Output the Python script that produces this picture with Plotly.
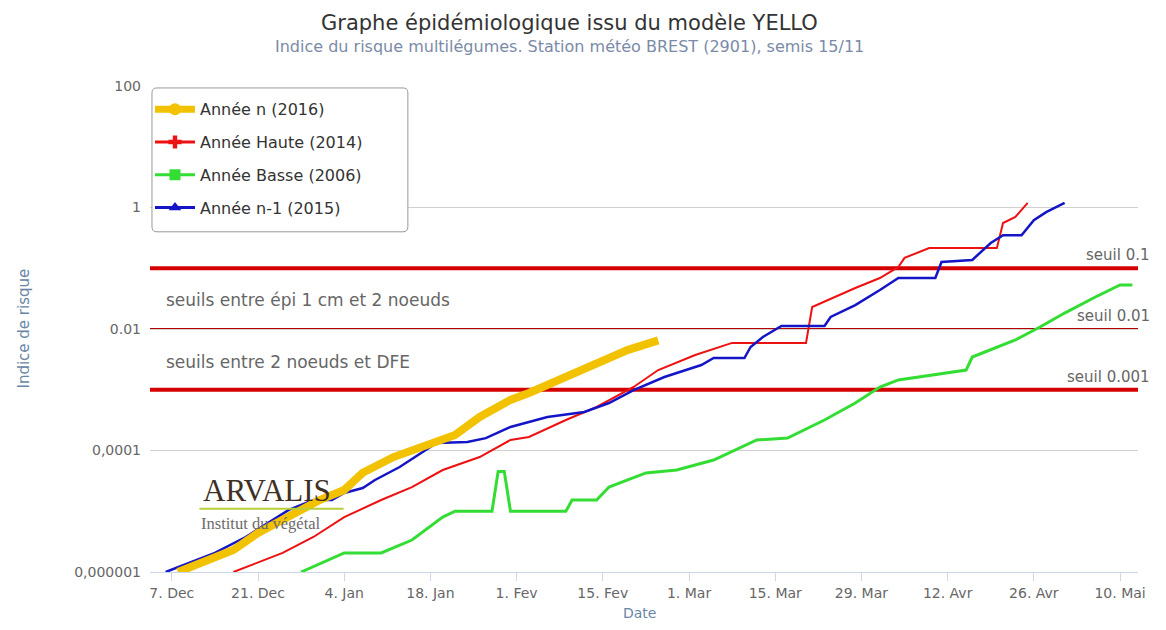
import numpy as np
import plotly.graph_objects as go

# axe des dates : annee non bissextile (15 Fev + 14 j = 1 Mar)
tickDates = ["2022-12-07", "2022-12-21", "2023-01-04", "2023-01-18", "2023-02-01", "2023-02-15",
             "2023-03-01", "2023-03-15", "2023-03-29", "2023-04-12", "2023-04-26", "2023-05-10"]
tickLabels = ["7. Dec", "21. Dec", "4. Jan", "18. Jan", "1. Fev", "15. Fev",
              "1. Mar", "15. Mar", "29. Mar", "12. Avr", "26. Avr", "10. Mai"]

yTickVals = [1e-6, 1e-4, 1e-2, 1, 100]
yTickText = ["0,000001", "0,0001", "0.01", "1", "100"]

# Annee n (2016)
anneeN_dates = ["2022-12-08", "2022-12-17", "2022-12-21", "2022-12-26", "2022-12-31", "2023-01-04",
                "2023-01-07", "2023-01-12", "2023-01-18", "2023-01-22", "2023-01-26", "2023-01-31",
                "2023-02-03", "2023-02-09", "2023-02-14", "2023-02-19", "2023-02-24"]
anneeN_vals = [1.0e-6, 2.3e-6, 4.4e-6, 8.0e-6, 1.53e-5, 2.24e-5,
               4.3e-5, 7.8e-5, 1.33e-4, 1.8e-4, 3.56e-4, 6.8e-4,
               8.85e-4, 1.62e-3, 2.75e-3, 4.5e-3, 6.5e-3]

# Annee Haute (2014)
haute_dates = ["2022-12-17", "2022-12-25", "2022-12-30", "2023-01-04", "2023-01-10", "2023-01-15",
               "2023-01-20", "2023-01-26", "2023-01-31", "2023-02-03", "2023-02-09", "2023-02-14",
               "2023-02-20", "2023-02-24", "2023-03-02", "2023-03-08", "2023-03-20", "2023-03-21",
               "2023-03-28", "2023-04-01", "2023-04-04", "2023-04-05", "2023-04-09", "2023-04-20",
               "2023-04-21", "2023-04-23", "2023-04-25"]
haute_vals = [1.0e-6, 2.06e-6, 3.77e-6, 8.0e-6, 1.53e-5, 2.5e-5,
              4.77e-5, 7.8e-5, 1.49e-4, 1.67e-4, 3.18e-4, 5.2e-4,
              1.11e-3, 2.11e-3, 3.73e-3, 5.9e-3, 5.9e-3, 2.3e-2,
              4.73e-2, 6.9e-2, 0.105, 0.148, 0.215, 0.215,
              0.556, 0.70, 1.19]

# Annee Basse (2006)
basse_dates = ["2022-12-28", "2023-01-04", "2023-01-10", "2023-01-15", "2023-01-20", "2023-01-22",
               "2023-01-28", "2023-01-29", "2023-01-30", "2023-01-31", "2023-02-09", "2023-02-10",
               "2023-02-14", "2023-02-16", "2023-02-22", "2023-02-27", "2023-03-05", "2023-03-12",
               "2023-03-17", "2023-03-23", "2023-03-28", "2023-04-01", "2023-04-04", "2023-04-15",
               "2023-04-16", "2023-04-23", "2023-04-27", "2023-05-01", "2023-05-06", "2023-05-10",
               "2023-05-12"]
basse_vals = [1.0e-6, 2.06e-6, 2.06e-6, 3.36e-6, 8.0e-6, 1.0e-5,
              1.0e-5, 4.5e-5, 4.5e-5, 1.0e-5, 1.0e-5, 1.53e-5,
              1.53e-5, 2.5e-5, 4.27e-5, 4.77e-5, 6.98e-5, 1.49e-4,
              1.6e-4, 3.18e-4, 6.05e-4, 1.11e-3, 1.45e-3, 2.11e-3,
              3.46e-3, 6.6e-3, 1.08e-2, 1.83e-2, 3.36e-2, 5.3e-2,
              5.3e-2]

# Annee n-1 (2015)
n1_dates = ["2022-12-06", "2022-12-14", "2022-12-19", "2022-12-26", "2022-12-30", "2023-01-02",
            "2023-01-04", "2023-01-07", "2023-01-09", "2023-01-13", "2023-01-19", "2023-01-24",
            "2023-01-27", "2023-01-31", "2023-02-06", "2023-02-12", "2023-02-16", "2023-02-20",
            "2023-02-25", "2023-03-03", "2023-03-05", "2023-03-10", "2023-03-11", "2023-03-13",
            "2023-03-16", "2023-03-23", "2023-03-24", "2023-03-28", "2023-04-01", "2023-04-04",
            "2023-04-10", "2023-04-11", "2023-04-16", "2023-04-19", "2023-04-21", "2023-04-24",
            "2023-04-26", "2023-04-28", "2023-05-01"]
n1_vals = [1.0e-6, 2.06e-6, 3.77e-6, 1.05e-5, 1.53e-5, 1.53e-5,
           2.0e-5, 2.41e-5, 3.27e-5, 5.35e-5, 1.33e-4, 1.38e-4,
           1.6e-4, 2.44e-4, 3.56e-4, 4.3e-4, 6.05e-4, 9.9e-4,
           1.62e-3, 2.55e-3, 3.33e-3, 3.33e-3, 5.06e-3, 7.4e-3,
           1.12e-2, 1.12e-2, 1.58e-2, 2.48e-2, 4.39e-2, 6.9e-2,
           6.9e-2, 0.127, 0.137, 0.26, 0.35, 0.35,
           0.62, 0.84, 1.19]

seuils = [0.1, 0.01, 0.001]
seuilLabels = ["seuil 0.1", "seuil 0.01", "seuil 0.001"]

fontFamily = "DejaVu Sans, Liberation Sans, Arial"
serifFamily = "Liberation Serif, DejaVu Serif"

fig = go.Figure()

series = [
    ("Année n (2016)", anneeN_dates, anneeN_vals, "#F2C200", 8, "circle"),
    ("Année Haute (2014)", haute_dates, haute_vals, "#EE1111", 2, "cross"),
    ("Année Basse (2006)", basse_dates, basse_vals, "#33DD33", 3, "square"),
    ("Année n-1 (2015)", n1_dates, n1_vals, "#1515C8", 2.5, "triangle-up"),
]

# draw high/low first, then n-1, then year n on top
for name, d, v, col, w, sym in [series[1], series[2], series[3], series[0]]:
    fig.add_trace(go.Scatter(x=d, y=v, mode="lines", name=name, showlegend=False,
                             line=dict(color=col, width=w), hoverinfo="x+y"))

# legend entries
for i, (name, d, v, col, w, sym) in enumerate(series):
    fig.add_trace(go.Scatter(x=[None], y=[None], mode="lines+markers", name=name,
                             legendgroup="g%d" % i,
                             line=dict(color=col, width=max(w, 3) if i != 0 else 7),
                             marker=dict(symbol=sym, size=11 if i != 0 else 12, color=col)))

# legend frame (rounded), drawn as a shape so it can be sized like the original
x0, x1, y0, y1 = 0.002, 0.261, 0.70, 0.996
rx, ry = 5 / 995, 5 / 486
framePath = ("M %f,%f L %f,%f Q %f,%f %f,%f L %f,%f Q %f,%f %f,%f L %f,%f Q %f,%f %f,%f "
             "L %f,%f Q %f,%f %f,%f Z") % (
    x0 + rx, y1, x1 - rx, y1, x1, y1, x1, y1 - ry, x1, y0 + ry, x1, y0, x1 - rx, y0,
    x0 + rx, y0, x0, y0, x0, y0 + ry, x0, y1 - ry, x0, y1, x0 + rx, y1)
fig.add_shape(type="path", xref="paper", yref="paper", path=framePath,
              fillcolor="white", line=dict(color="#999999", width=1), layer="above")

# threshold lines
for s in seuils:
    fig.add_shape(type="line", xref="paper", x0=0, x1=1, yref="y", y0=s, y1=s,
                  line=dict(color="#D40000" if s != 0.01 else "#B80000", width=4 if s != 0.01 else 2),
                  layer="between")

for s, lab in zip(seuils, seuilLabels):
    fig.add_annotation(text=lab, xref="paper", x=1.014, xanchor="right", yref="paper",
                       y=(np.log10(s) + 6) / 8, yanchor="bottom", yshift=2, showarrow=False,
                       font=dict(family=fontFamily, size=15, color="#666666"))

fig.add_annotation(text="seuils entre épi 1 cm et 2 noeuds", xref="paper", x=0.014, xanchor="left",
                   yref="paper", y=(-1.52 + 6) / 8, yanchor="middle", showarrow=False,
                   font=dict(family=fontFamily, size=17, color="#666666"))
fig.add_annotation(text="seuils entre 2 noeuds et DFE", xref="paper", x=0.014, xanchor="left",
                   yref="paper", y=(-2.54 + 6) / 8, yanchor="middle", showarrow=False,
                   font=dict(family=fontFamily, size=17, color="#666666"))

# logo ARVALIS
fig.add_annotation(text="ARVALIS", xref="paper", yref="paper", x=0.118, y=0.168,
                   xanchor="center", yanchor="middle", showarrow=False,
                   font=dict(family=serifFamily, size=31, color="#3f3024"))
fig.add_shape(type="line", xref="paper", yref="paper", x0=0.05, x1=0.196, y0=0.13, y1=0.13,
              line=dict(color="#B7CF3A", width=2))
fig.add_annotation(text="Institut du végétal", xref="paper", yref="paper", x=0.05, y=0.099,
                   xanchor="left", yanchor="middle", showarrow=False,
                   font=dict(family=serifFamily, size=16.5, color="#6b6b6b"))

# titles
fig.add_annotation(text="Graphe épidémiologique issu du modèle YELLO", xref="paper", yref="paper",
                   x=0.425, y=1.13, xanchor="center", yanchor="middle", showarrow=False,
                   font=dict(family=fontFamily, size=21, color="#333333"))
fig.add_annotation(text="Indice du risque multilégumes. Station météo BREST (2901), semis 15/11",
                   xref="paper", yref="paper", x=0.425, y=1.082, xanchor="center", yanchor="middle",
                   showarrow=False, font=dict(family=fontFamily, size=16, color="#7a8aa8"))
fig.add_annotation(text="Indice de risque", xref="paper", yref="paper", x=-0.128, y=0.5,
                   xanchor="center", yanchor="middle", textangle=-90, showarrow=False,
                   font=dict(family=fontFamily, size=15, color="#6a86a6"))
fig.add_annotation(text="Date", xref="paper", yref="paper", x=0.495, y=-0.085,
                   xanchor="center", yanchor="middle", showarrow=False,
                   font=dict(family=fontFamily, size=14, color="#6a86a6"))

fig.update_xaxes(type="date", range=["2022-12-03 11:00", "2023-05-12 22:00"],
                 tickvals=tickDates, ticktext=tickLabels, showgrid=False,
                 showline=True, linecolor="#ccd6eb", linewidth=1,
                 ticks="outside", ticklen=8, tickcolor="#ccd6eb",
                 tickfont=dict(family=fontFamily, size=14, color="#666666"), zeroline=False)
fig.update_yaxes(type="log", range=[-6, 2], tickvals=yTickVals, ticktext=yTickText,
                 showgrid=True, gridcolor="#d0d0d0", gridwidth=1, zeroline=False,
                 ticks="", ticklabelstandoff=8,
                 tickfont=dict(family=fontFamily, size=14, color="#666666"))

# the page body adds 8 px on each side, so the figure is a bit smaller than the window
fig.update_layout(
    width=1150, height=614,
    margin=dict(l=142, r=13, t=78, b=50),
    paper_bgcolor="white", plot_bgcolor="white",
    showlegend=True,
    legend=dict(x=0.0, y=0.987, xanchor="left", yanchor="top",
                bgcolor="rgba(0,0,0,0)", borderwidth=0,
                tracegroupgap=9, itemwidth=40,
                font=dict(family=fontFamily, size=16, color="#333333")),
)

fig.write_html("out.html")
